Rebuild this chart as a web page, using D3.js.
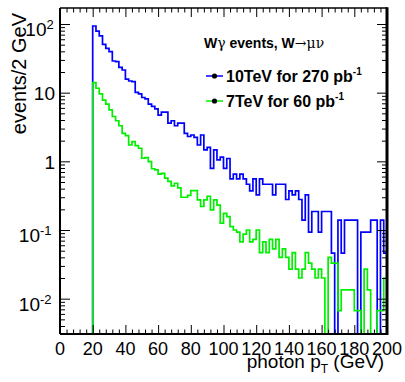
<!DOCTYPE html>
<html>
<head>
<meta charset="utf-8">
<script src="https://cdn.jsdelivr.net/npm/d3@7/dist/d3.min.js"></script>
<style>
  html, body { margin: 0; padding: 0; background: #ffffff; }
  svg { display: block; font-family: "Liberation Sans", Arial, Helvetica, sans-serif; }
</style>
</head>
<body>
<svg id="chart" width="405" height="382"></svg>
<script>
// photon pT histograms, 2 GeV bins starting at 20 GeV
const binWidth = 2;
const binEdges = d3.range(20, 200, binWidth);

const events10TeV = [
  93.5, 79, 67, 50.6, 44.3, 39.5, 28.9, 28.3, 23.4, 21.4,
  15.8, 14.8, 14.5, 10.1, 9.6, 8.5, 8.1, 6.8, 6.3, 5.8,
  4.7, 5.2, 5.2, 3.6, 3.9, 3.3, 3.6, 3.6, 2.56, 2.3,
  2.42, 2.24, 1.73, 2.42, 1.47, 1.6, 0.79, 1.47, 1.05, 1.15,
  0.79, 1.1, 0.557, 0.65, 0.557, 0.65, 0.557, 0.464, 0.371, 0.557,
  0.325, 0.557, 0.464, 0.464, 0.464, 0.325, 0.464, 0.464, 0.464, 0.278,
  0.371, 0.325, 0.371, 0.278, 0.139, 0.325, 0.093, 0.186, 0.186, 0.093,
  0.186, 0.186, 0.186, 0.046, 0, 0.139, 0.046, 0.139, 0.139, 0.139,
  0.139, 0, 0.093, 0.093, 0.093, 0.139, 0.139, 0, 0.139, 0.046
];

const events7TeV = [
  14.0, 11.6, 9.6, 7.8, 6.8, 5.6, 4.5, 3.9, 3.3, 2.56,
  2.37, 1.73, 1.94, 1.69, 1.55, 1.11, 1.13, 0.99, 0.78, 0.75,
  0.65, 0.67, 0.57, 0.51, 0.44, 0.48, 0.41, 0.30, 0.30, 0.32,
  0.375, 0.375, 0.274, 0.22, 0.274, 0.31, 0.196, 0.274, 0.23, 0.126,
  0.175, 0.157, 0.112, 0.10, 0.093, 0.067, 0.087, 0.10, 0.067, 0.073,
  0.10, 0.047, 0.067, 0.047, 0.073, 0.053, 0.073, 0.040, 0.053, 0.040,
  0.027, 0.047, 0.027, 0.020, 0.027, 0.047, 0.033, 0.027, 0.020, 0.027,
  0.020, 0, 0.040, 0.033, 0.033, 0.0067, 0.0134, 0.0134, 0.0134, 0.0134,
  0.0067, 0.0067, 0, 0.027, 0.0134, 0, 0, 0.0067, 0.0067, 0.020
];

const xMajorTicks = [0, 20, 40, 60, 80, 100, 120, 140, 160, 180, 200];
const yMajorTicks = [0.01, 0.1, 1, 10, 100];
const yTickBase = ['10', '10', '1', '10', '10'];
const yTickExp = ['-2', '-1', '', '', '2'];

const seriesNames = ['10TeV for 270 pb', '7TeV for 60 pb'];
const seriesColors = ['#0000ff', '#00f000'];

const svg = d3.select('#chart');
const frame = { left: 60, right: 387, top: 8, bottom: 334 };

const x = d3.scaleLinear().domain([0, 200]).range([frame.left, frame.right]);
const y = d3.scaleLog().domain([0.00306, 171]).range([frame.bottom, frame.top]);

svg.append('defs').append('clipPath').attr('id', 'frameClip')
  .append('rect')
  .attr('x', frame.left).attr('y', frame.top)
  .attr('width', frame.right - frame.left).attr('height', frame.bottom - frame.top);

function histPath(values) {
  const yb = frame.bottom;
  let p = `M${x(0)},${yb}H${x(binEdges[0])}`;
  values.forEach((v, i) => {
    const yy = v > 0 ? Math.min(y(v), yb) : yb;
    p += `V${yy}H${x(binEdges[i] + binWidth)}`;
  });
  return p;
}

const plot = svg.append('g').attr('clip-path', 'url(#frameClip)');
[events10TeV, events7TeV].forEach((vals, i) => {
  plot.append('path')
    .attr('d', histPath(vals))
    .attr('fill', 'none')
    .attr('stroke', seriesColors[i])
    .attr('stroke-width', 1.7);
});

// ticks, all pointing into the frame
const xMinor = d3.range(0, 201, 4).filter((v) => v % 20 !== 0);
const yMinor = [];
[-3, -2, -1, 0, 1, 2].forEach((e) => {
  for (let k = 2; k <= 9; k++) {
    const v = k * Math.pow(10, e);
    if (v > y.domain()[0] && v < y.domain()[1]) yMinor.push(v);
  }
});

function tickGroup(axis, tx, ty) {
  const g = svg.append('g').attr('transform', `translate(${tx},${ty})`).call(axis);
  g.select('.domain').remove();
  g.selectAll('line').attr('stroke', '#000').attr('stroke-width', 1);
  return g;
}

tickGroup(d3.axisBottom(x).tickValues(xMajorTicks).tickSize(-9).tickFormat(''), 0, frame.bottom);
tickGroup(d3.axisBottom(x).tickValues(xMinor).tickSize(-4.5).tickFormat(''), 0, frame.bottom);
tickGroup(d3.axisTop(x).tickValues(xMajorTicks).tickSize(-9).tickFormat(''), 0, frame.top);
tickGroup(d3.axisTop(x).tickValues(xMinor).tickSize(-4.5).tickFormat(''), 0, frame.top);
tickGroup(d3.axisLeft(y).tickValues(yMajorTicks).tickSize(-10).tickFormat(''), frame.left, 0);
tickGroup(d3.axisLeft(y).tickValues(yMinor).tickSize(-5).tickFormat(''), frame.left, 0);
tickGroup(d3.axisRight(y).tickValues(yMajorTicks).tickSize(-10).tickFormat(''), frame.right, 0);
tickGroup(d3.axisRight(y).tickValues(yMinor).tickSize(-5).tickFormat(''), frame.right, 0);

// frame lines
svg.append('line').attr('x1', frame.left).attr('x2', frame.right).attr('y1', frame.bottom).attr('y2', frame.bottom)
  .attr('stroke', '#000').attr('stroke-width', 2);
svg.append('line').attr('x1', frame.left).attr('x2', frame.right).attr('y1', frame.top).attr('y2', frame.top)
  .attr('stroke', '#000').attr('stroke-width', 1.5);
svg.append('line').attr('x1', frame.left).attr('x2', frame.left).attr('y1', frame.top).attr('y2', frame.bottom)
  .attr('stroke', '#000').attr('stroke-width', 2);
svg.append('line').attr('x1', frame.right).attr('x2', frame.right).attr('y1', frame.top - 0.75).attr('y2', frame.bottom + 1)
  .attr('stroke', '#000').attr('stroke-width', 3);

// x tick labels
svg.append('g').selectAll('text').data(xMajorTicks).enter().append('text')
  .attr('x', (d) => x(d))
  .attr('y', 355)
  .attr('text-anchor', 'middle')
  .attr('font-size', '18px')
  .text((d) => d);

// y tick labels
const yLab = svg.append('g').selectAll('text').data(yMajorTicks).enter().append('text')
  .attr('y', (d, i) => y(d) + (yTickExp[i] ? 12 : 7.5))
  .attr('text-anchor', 'end')
  .attr('font-size', '19px');
yLab.each(function (d, i) {
  const t = d3.select(this);
  if (yTickExp[i]) {
    t.attr('x', 53 - yTickExp[i].length * 6.5);
    t.text(yTickBase[i]);
    d3.select(this.parentNode).append('text')
      .attr('x', 53 - yTickExp[i].length * 6.5)
      .attr('y', y(d) + 5)
      .attr('font-size', '13px')
      .text(yTickExp[i]);
  } else {
    t.attr('x', 55);
    t.text(yTickBase[i]);
  }
});

// axis titles
const xt = svg.append('text')
  .attr('x', 384).attr('y', 368)
  .attr('text-anchor', 'end')
  .attr('font-size', '19px');
xt.append('tspan').text('photon p');
xt.append('tspan').attr('dy', 5).attr('font-size', '12px').text('T');
xt.append('tspan').attr('dy', -5).text(' (GeV)');

svg.append('text')
  .attr('transform', 'translate(26,13) rotate(-90)')
  .attr('text-anchor', 'end')
  .attr('font-size', '20px')
  .text('events/2 GeV');

// legend
const lt = svg.append('text').attr('x', 204).attr('y', 48).attr('font-size', '14px').attr('font-weight', 'bold');
lt.append('tspan').text('W');
lt.append('tspan').attr('font-weight', 'normal').attr('font-family', '"DejaVu Serif", serif').text('γ');
lt.append('tspan').text(' events, W');
lt.append('tspan').attr('font-weight', 'normal').attr('font-family', '"DejaVu Serif", serif').text('→μν');

const legendY = [76, 101];
seriesNames.forEach((name, i) => {
  const g = svg.append('g');
  g.append('line').attr('x1', 206).attr('x2', 223).attr('y1', legendY[i]).attr('y2', legendY[i])
    .attr('stroke', seriesColors[i]).attr('stroke-width', 1.5);
  g.append('circle').attr('cx', 214.5).attr('cy', legendY[i]).attr('r', 2.6).attr('fill', '#000');
  const t = g.append('text').attr('x', 226).attr('y', legendY[i] + 6)
    .attr('font-size', '16px').attr('font-weight', 'bold');
  t.append('tspan').text(name);
  t.append('tspan').attr('dy', -7).attr('font-size', '10px').text('-1');
});
</script>
</body>
</html>
